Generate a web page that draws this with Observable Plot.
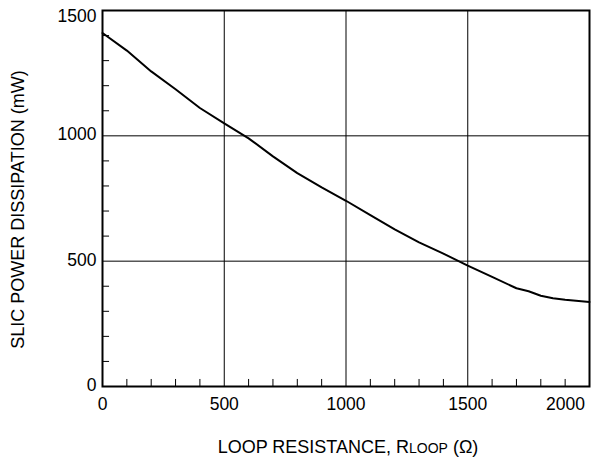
<!DOCTYPE html>
<html>
<head>
<meta charset="utf-8">
<script src="https://cdn.jsdelivr.net/npm/d3@7"></script>
<script src="https://cdn.jsdelivr.net/npm/@observablehq/plot@0.6"></script>
<style>
  html, body { margin: 0; padding: 0; background: #fff; }
  svg { font-family: "Liberation Sans", Arial, sans-serif; }
</style>
</head>
<body>
<div id="chart"></div>
<script>
// Data
const resistance = [0, 100, 200, 300, 400, 500, 600, 700, 800, 900, 1000, 1100, 1200, 1300, 1400, 1500, 1600, 1700, 1750, 1800, 1850, 1900, 2000];
const power      = [1410, 1340, 1257, 1186, 1111, 1050, 990, 918, 851, 794, 741, 684, 627, 575, 530, 482, 437, 392, 380, 362, 352, 346, 337];

const xTickLabels = [0, 500, 1000, 1500];
const xLastLabel = [2000];
const yTickLabels = [0, 500, 1000];
const yTopLabel = [1500];
const xGrid = [500, 1000, 1500];
const yGrid = [500, 1000];
const xMinor = [100, 200, 300, 400, 600, 700, 800, 900, 1100, 1200, 1300, 1400, 1600, 1700, 1800, 1900];
const yMinor = [100, 200, 300, 400, 600, 700, 800, 900, 1100, 1200, 1300, 1400];

const xTitle = "LOOP RESISTANCE, RLOOP (Ω)";
const yTitle = "SLIC POWER DISSIPATION (mW)";

const data = resistance.map((r, i) => ({r, p: power[i]}));

const tickFont = 17.5;
const titleFont = 18;
const plot = Plot.plot({
  width: 592,
  height: 459,
  marginLeft: 102,
  marginRight: 3,
  marginTop: 10,
  marginBottom: 73,
  x: {domain: [0, 2000], axis: null},
  y: {domain: [0, 1500], axis: null},
  style: {fontFamily: '"Liberation Sans", Arial, sans-serif', fontSize: tickFont + "px", background: "#fff"},
  marks: [
    Plot.ruleX(xGrid, {stroke: "black", strokeWidth: 1}),
    Plot.ruleY(yGrid, {stroke: "black", strokeWidth: 1}),
    Plot.ruleX(xMinor, {y1: 0, y2: 28, stroke: "black", strokeWidth: 1}),
    Plot.ruleY(yMinor, {x1: 0, x2: 29, stroke: "black", strokeWidth: 1}),
    Plot.line(data, {x: "r", y: "p", stroke: "black", strokeWidth: 2}),
    Plot.frame({stroke: "black", strokeWidth: 2}),
    Plot.text(xTickLabels, {x: d => d, y: 0, dy: 18, text: d => String(d), fill: "black", fontSize: tickFont}),
    Plot.text(xLastLabel, {x: d => d, y: 0, dy: 18, dx: -24, text: d => String(d), fill: "black", fontSize: tickFont}),
    Plot.text(yTickLabels, {x: 0, y: d => d, dx: -6, dy: -1, textAnchor: "end", text: d => String(d), fill: "black", fontSize: tickFont}),
    Plot.text(yTopLabel, {x: 0, y: d => d, dx: -6, dy: 6, textAnchor: "end", text: d => String(d), fill: "black", fontSize: tickFont}),
    Plot.text([xTitle], {frameAnchor: "bottom", textAnchor: "middle", lineAnchor: "middle", dx: 2, dy: 61, text: d => d, fill: "black", fontSize: titleFont, className: "xtitle"}),
    Plot.text([yTitle], {frameAnchor: "left", textAnchor: "middle", lineAnchor: "middle", dx: -84, dy: 11, rotate: -90, text: d => d, fill: "black", fontSize: titleFont})
  ]
});
document.getElementById("chart").appendChild(plot);

// Render the "LOOP" part of RLOOP as smaller capitals, as in the reference
d3.select(plot).selectAll("g.xtitle text").each(function() {
  const t = d3.select(this);
  const s = t.text();
  const idx = s.indexOf("RLOOP");
  if (idx < 0) return;
  t.text(null);
  t.append("tspan").text(s.slice(0, idx + 1));
  t.append("tspan").attr("font-size", 14).text("LOOP");
  t.append("tspan").text(s.slice(idx + 5));
});
</script>
</body>
</html>
